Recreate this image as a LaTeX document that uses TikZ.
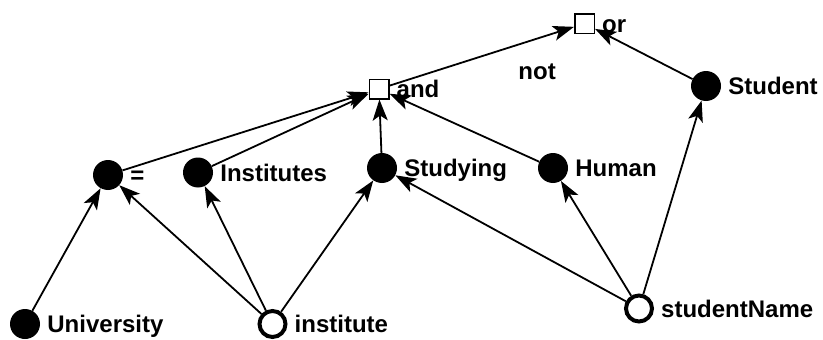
\documentclass[tikz,border=0pt]{standalone}
\usepackage{fontspec}
\setmainfont{Liberation Sans}
\usetikzlibrary{arrows.meta,positioning}

\begin{document}
\begin{tikzpicture}[x=1pt,y=-1pt,
    every node/.style={font=\fontsize{24}{28}\selectfont\bfseries},
    dot/.style={circle,fill=black,inner sep=0pt,minimum size=30pt},
    var/.style={circle,draw=black,fill=white,line width=4pt,inner sep=0pt,minimum size=26pt},
    gate/.style={rectangle,draw=black,fill=white,line width=1.5pt,inner sep=0pt,minimum size=19.5pt},
    lbl/.style={label distance=6pt,inner sep=1pt,text height=17pt,text depth=0pt},
    arr/.style={line width=1.8pt,-{Stealth[length=21pt,width=15pt,inset=5pt]}}]
\useasboundingbox (0,0) rectangle (823,340);
% operators
\node[gate,label={[lbl]right:or}] (or) at (584.5,23.5) {};
\node[gate,label={[lbl]right:and}] (and) at (379,89) {};
% concepts
\node[dot,label={[lbl]right:Student}] (student) at (706,86) {};
\node[dot,label={[lbl]right:=}] (eq) at (108,175) {};
\node[dot,label={[lbl]right:Institutes}] (insts) at (198,172.5) {};
\node[dot,label={[lbl]right:Studying}] (study) at (382,168) {};
\node[dot,label={[lbl]right:Human}] (human) at (553,168) {};
\node[dot,label={[lbl]right:University}] (univ) at (25,324) {};
% variables
\node[var,label={[lbl]right:institute}] (inst) at (272.5,324) {};
\node[var,label={[lbl]right:studentName}] (sname) at (639,308.5) {};
% edges
\foreach \a/\b in {univ/eq,inst/eq,inst/insts,inst/study,sname/study,sname/human,sname/student,eq/and,insts/and,study/and,human/and,student/or}
  \draw[arr] (\a) -- (\b);
\draw[arr] (and) -- node[pos=0.8,below=21pt,inner sep=2pt,text height=17pt,text depth=0pt] (neg) {not} (or);
\end{tikzpicture}
\end{document}
